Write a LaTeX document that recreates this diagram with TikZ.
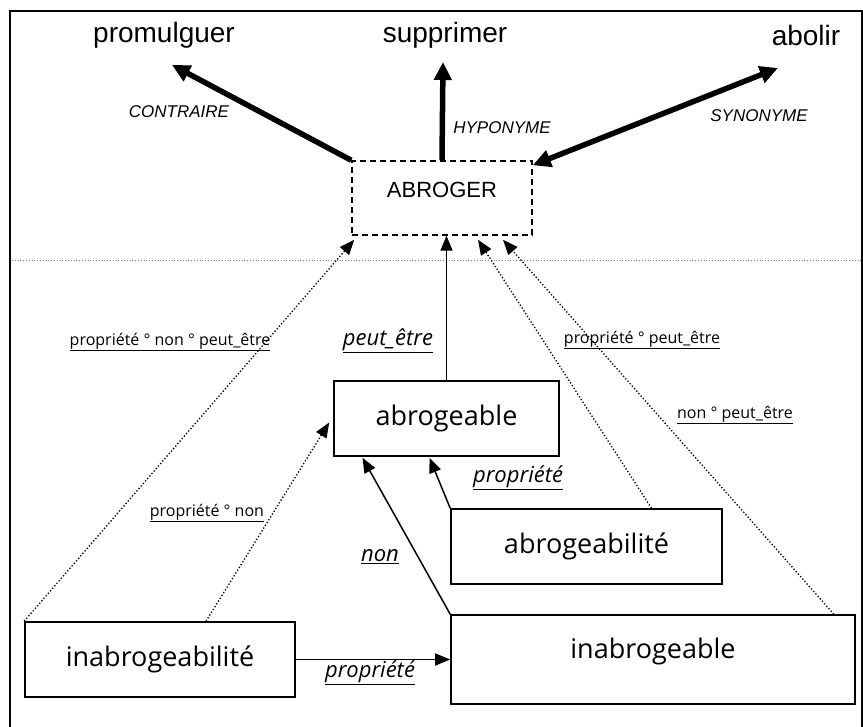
\documentclass[tikz,border=0pt]{standalone}
\usepackage{fontspec}
\setmainfont{Liberation Sans}
\newfontfamily\comic{Open Sans}
\usetikzlibrary{arrows.meta}
\begin{document}
\begin{tikzpicture}[x=1pt,y=-1pt,
    box/.style={draw,line width=1.6pt,inner sep=0pt,font=\comic\fontsize{27}{30}\selectfont},
    word/.style={font=\fontsize{28}{32}\selectfont},
    rel/.style={font=\itshape\fontsize{17}{20}\selectfont},
    tag/.style={font=\comic\fontsize{16}{19}\selectfont},
    itag/.style={font=\comic\itshape\fontsize{22}{25}\selectfont},
    bigarrow/.style={line width=5.5pt,-{Triangle[length=18pt,width=17pt]}},
    thinarrow/.style={line width=1.5pt,-{Triangle[length=15pt,width=12pt]}},
    dotarrow/.style={thinarrow,line width=1.3pt,dash pattern=on 1.3pt off 2pt}]
     \useasboundingbox (0,0) rectangle (863,727);
     % Frame and separation line
     \draw[line width=1.3pt] (10,727) -- (10,11) -- (862,11) -- (862,727);
     \draw[gray,line width=0.8pt,dotted] (12,260) -- (862,260);
     % Words of the top level
     \foreach \name/\x in {promulguer/164,supprimer/445,abolir/806} {
      \node[word] (\name) at (\x,35) {\name};
     };
     \node[draw,dashed,dash pattern=on 6pt off 4pt,line width=1.5pt,minimum width=180pt,minimum height=74pt,
       text depth=16pt,font=\fontsize{22}{26}\selectfont] (abroger) at (442,198) {ABROGER};
     \coordinate (ctip) at (172,65);
     \coordinate (htip) at (443,62);
     \coordinate (stip) at (778,68);
     \draw[bigarrow] (abroger.north west) -- (ctip);
     \draw[bigarrow] (abroger.north) -- (htip);
     \draw[bigarrow,{Triangle[length=18pt,width=17pt]}-{Triangle[length=18pt,width=17pt]}]
       ([yshift=-5pt]abroger.north east) -- (stip);
     \node[rel] (contraire) at (179,112) {CONTRAIRE};
     \node[rel] (hyponyme) at (502,128) {HYPONYME};
     \node[rel] (synonyme) at (759,116) {SYNONYME};
     % Derived words
     \node[box,minimum width=225pt,minimum height=75pt] (abrogeable) at (446.5,418.5) {abrogeable};
     \node[box,minimum width=271pt,minimum height=75pt] (abrogeabilite) at (586.5,546.5) {abrogeabilité};
     \node[box,minimum width=270pt,minimum height=75pt] (inabrogeabilite) at (160,659.5) {inabrogeabilité};
     \node[box,minimum width=404pt,minimum height=89pt,text depth=22pt] (inabrogeable) at (653,659.5) {inabrogeable};
     % Solid links
     \draw[thinarrow] (abrogeable.north) -- (abrogeable.north |- abroger.south);
     \draw[thinarrow] (abrogeabilite.north west) -- ([shift={(-17,1)}]abrogeable.south);
     \draw[thinarrow] (inabrogeable.north west) -- ([shift={(-84,1)}]abrogeable.south);
     \draw[thinarrow] (inabrogeabilite.east) -- (inabrogeable.west);
     \node[itag] (lpeut) at (388,341) {\underline{peut\_être}};
     \node[itag] (lprop) at (518,478) {\underline{propriété}};
     \node[itag] (lnon) at (380,557) {\underline{non}};
     \node[itag] (lpropb) at (370,673) {\underline{propriété}};
     % Dotted links
     \draw[dotarrow] (inabrogeabilite.north west) -- ([shift={(3,4)}]abroger.south west);
     \draw[dotarrow] ([xshift=46pt]inabrogeabilite.north) -- ([shift={(-4,4)}]abrogeable.west);
     \draw[dotarrow] ([xshift=65pt]abrogeabilite.north) -- ([shift={(36,4)}]abroger.south);
     \draw[dotarrow] ([xshift=-22pt]inabrogeable.north east) -- ([shift={(61,4)}]abroger.south);
     \node[tag] (lpnp) at (170,342) {\underline{propriété ° non ° peut\_être}};
     \node[tag] (lpn) at (207,513) {\underline{propriété ° non}};
     \node[tag] (lpp) at (642,340) {\underline{propriété ° peut\_être}};
     \node[tag] (lnp) at (735,415) {\underline{non ° peut\_être}};
    \end{tikzpicture}
\end{document}
